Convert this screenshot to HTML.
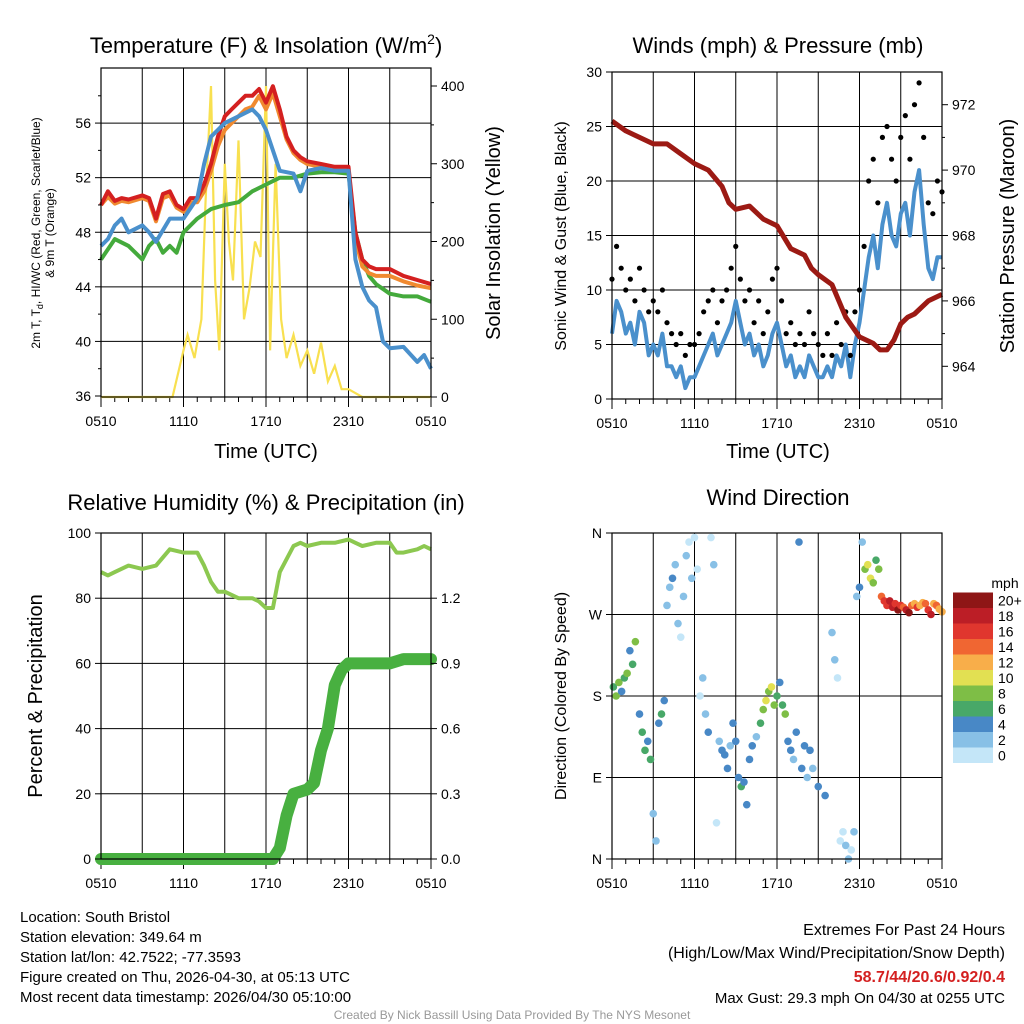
<!DOCTYPE html>
<html><head><meta charset="utf-8"><style>
html,body{margin:0;padding:0;background:#fff}
svg{display:block;font-family:"Liberation Sans",sans-serif}
</style></head><body>
<svg id="c" width="1024" height="1024" viewBox="0 0 1024 1024">
<g id="g"></g>
</svg>
<script>
// ---------- DATA ----------
const xTickLabels = ["0510","1110","1710","2310","0510"];
// Temperature panel (hours since 0510 UTC)
const tRedH = [0,0.5,1,1.5,2,3,3.5,4,4.5,5,5.5,6,6.5,7,7.5,8,8.5,9,9.5,10,10.5,11,11.5,12,12.5,13,13.5,14,14.5,15,16,17,18,18.5,19,19.5,20,21,22,23,24];
const tRed = [50,51,50.3,50.5,50.4,50.7,50.5,49,50.8,51,50,49.7,50.5,50.5,51.5,53,55,56.5,57,57.5,58,58,58.5,57.5,58.7,57,55,54,53.5,53.2,53,52.8,52.8,48,46,45.5,45.3,45.3,44.8,44.5,44.2];
const tOrange = [50,50.6,50.1,50.3,50.2,50.5,50.3,48.8,50.5,50.7,49.8,49.5,50.2,50.2,51,52.5,54.3,55.5,56,56.5,57,57.2,58,57,58.2,56.5,54.8,53.8,53.3,53,52.8,52.6,52.6,47.5,45.5,45,44.8,44.8,44.4,44.1,43.9];
const tGreenH = [0,1,2,3,3.5,4,4.5,5,5.5,6,7,8,9,10,11,12,13,14,15,16,17,18,18.5,19,19.5,20,21,22,23,24];
const tGreen = [46,47.5,47,46,47,47.5,46.5,47,46.5,48,49,49.7,50,50.2,51,51.5,52,52,52.3,52.4,52.4,52.3,48,46,44.8,44.2,43.5,43.3,43.3,42.9];
const tBlueH = [0,0.5,1,1.5,2,3,3.5,4,5,6,7,7.5,8,8.5,9,10,11,11.5,12,13,14,14.5,15,16,17,18,18.5,19,19.5,20,20.5,21,22,23,23.5,24];
const tBlue = [47,47.5,48.5,49,48,48.5,48,47.3,49,49,50.5,53,55,55.5,56,56.5,57,56.5,55.5,52.5,52.3,51,52.5,52.7,52.5,52.5,46,44,43,42.5,40,39.5,39.6,38.5,39,38];
const solarH = [0,5.2,5.6,6,6.3,6.8,7.3,7.6,8,8.3,8.6,9,9.3,9.6,10,10.4,10.8,11.2,11.6,12,12.3,12.7,13.1,13.5,14,14.5,15,15.5,16,16.5,17,17.5,18,19,24];
const solar = [0,0,30,60,80,50,100,250,400,150,60,300,200,150,330,100,140,200,180,400,60,300,100,50,80,40,60,30,70,20,40,10,10,0,0];
// Winds panel
const windSpd = [6,9,8,6,7,5,8,7,4, 5,4,6,3,3,2,3,1,2, 2,3,4,5,6,4,5,6,7, 9,7,5,6,4,5,3,4,6, 7,5,3,4,2,3,2,4,3, 2,2,3,2,4,3,5,2,5, 7,10,13,15,12,16,18,15,14,17,18,15,19,21,16,12,11,13,13];
const windGust = [11,14,12,10,11,9,12,10,8, 9,8,10,7,6,5,6,4,5, 5,6,8,9,10,7,9,10,12, 14,11,9,10,7,9,6,8,11, 12,9,6,7,5,6,5,8,6, 5,4,6,4,7,5,8,4,8, 10,14,20,22,18,24,25,22,20,24,26,22,27,29,24,18,17,20,19];
const presH = [0,1,2,3,4,5,6,7,8,8.5,9,10,11,12,13,14,14.5,15,16,17,18,18.5,19,19.5,20,20.5,21,21.5,22,23,24];
const pres = [971.5,971.2,971,970.8,970.8,970.5,970.2,970,969.5,969,968.8,968.9,968.5,968.3,967.6,967.4,967,966.8,966.5,965.5,964.9,964.8,964.7,964.5,964.5,964.8,965.3,965.5,965.6,966,966.2];
// RH / precip panel
const rhH = [0,0.5,1,2,3,4,5,6,7,7.5,8,8.5,9,10,11,11.5,12,12.5,13,14,14.5,15,16,17,18,18.5,19,20,21,21.5,22,23,23.5,24];
const rh = [88,87,88,90,89,90,95,94,94,90,85,82,82,80,80,79,77,77,88,96,97,96,97,97,98,97,96,97,97,94,94,95,96,95];
const prH = [0,12.5,13,13.5,14,15,15.5,16,16.5,17,17.5,18,21,22,24];
const pr = [0,0,0.05,0.2,0.3,0.32,0.35,0.5,0.6,0.8,0.87,0.9,0.9,0.92,0.92];
// Wind direction panel
const dirH = [0.1,0.3,0.5,0.7,0.9,1.1,1.3,1.5,1.7,2.0,2.2,2.4,2.6,2.8,3.0,3.2,3.4,3.6,3.8,4.0,4.2,4.4,4.6,4.8,5.0,5.2,5.4,5.6,5.8,6.0,6.2,6.4,6.6,6.8,7.0,7.2,7.4,7.6,7.8,8.0,8.2,8.4,8.6,8.8,9.0,9.2,9.4,9.6,9.8,10.0,10.2,10.5,10.8,11.0,11.2,11.4,11.6,11.8,12.0,12.2,12.4,12.6,12.8,13.0,13.2,13.4,13.6,13.8,14.0,14.2,14.4,14.6,15.0,15.5,16.0,16.2,16.4,16.6,16.8,17.0,17.2,17.4,17.6,17.8,18.0,18.2,18.4,18.6,18.8,19.0,19.2,19.4,19.6,19.8,20.0,20.2,20.4,20.6,20.8,21.0,21.2,21.4,21.6,21.8,22.0,22.2,22.4,22.6,22.8,23.0,23.2,23.4,23.6,23.8,24];
const dirDeg = [190,180,195,185,200,205,230,215,240,160,140,120,130,110,50,20,150,160,175,280,300,310,325,260,245,290,335,350,310,355,320,180,200,160,140,355,325,40,130,120,115,100,125,150,130,90,80,85,60,110,125,135,150,165,175,185,190,170,180,195,170,160,130,120,110,140,350,100,125,90,120,100,80,70,250,220,200,20,30,15,0,10,30,290,300,350,320,325,310,305,330,320,290,285,280,285,278,282,275,280,278,275,272,280,282,278,280,283,282,275,270,282,280,276,273];
const dirSpd = [6,8,8,4,6,8,4,6,8,4,6,6,4,6,2,2,4,6,4,2,2,4,2,2,0,2,2,0,2,0,0,0,2,2,4,0,2,0,2,4,4,4,2,4,4,4,6,4,4,4,4,2,6,8,10,8,10,8,6,4,6,8,4,4,2,4,4,4,4,2,4,2,4,4,2,2,0,0,0,2,2,0,2,2,4,2,8,10,10,8,6,8,14,16,16,18,18,16,20,16,14,18,20,14,12,16,12,12,14,16,18,12,14,12,12];
const cbLabels = ["0","2","4","6","8","10","12","14","16","18","20+"];
const cbColors = ["#c4e6f8","#88c0e6","#4888c6","#48a868","#7ebe46","#e2e052","#f8ae4a","#f06632","#e0362e","#bc1e26","#8e1616"];

// ---------- HELPERS ----------
const NS="http://www.w3.org/2000/svg";
const G=document.getElementById('g');
function el(tag,attrs,parent){const e=document.createElementNS(NS,tag);for(const k in attrs)e.setAttribute(k,attrs[k]);(parent||G).appendChild(e);return e;}
function txt(x,y,s,size,anchor,extra,parent){const t=el('text',Object.assign({x:x,y:y,'font-size':size,'text-anchor':anchor||'middle',fill:'#000'},extra||{}),parent);t.textContent=s;return t;}
function lin(d0,d1,r0,r1){return v=>r0+(v-d0)/(d1-d0)*(r1-r0);}
function pathOf(xs,ys,fx,fy){return xs.map((h,i)=>(i?'L':'M')+fx(h).toFixed(1)+','+fy(ys[i]).toFixed(1)).join('');}
function evenH(n){const a=[];for(let i=0;i<n;i++)a.push(i*24/(n-1));return a;}

function panel(name,x0,x1,y0,y1,hGrid,fy){
  const g=el('g',{});
  
  
  const fx=lin(0,24,x0,x1);
  for(let h=3;h<24;h+=3) el('line',{x1:fx(h),x2:fx(h),y1:y0,y2:y1,stroke:'#000','stroke-width':1},g);
  hGrid.forEach(v=>el('line',{x1:x0,x2:x1,y1:fy(v),y2:fy(v),stroke:'#000','stroke-width':1},g));
  const xa=el('g',{},g);
  
  
  for(let h=0;h<=24;h+=1){el('line',{x1:fx(h),x2:fx(h),y1:y1,y2:y1+(h%6==0?10:5),stroke:'#000'},xa);}
  xTickLabels.forEach((s,i)=>txt(fx(i*6),y1+29,s,14,'middle',{},xa));
  return {g,fx};
}
function frame(g,x0,x1,y0,y1){el('rect',{x:x0,y:y0,width:x1-x0,height:y1-y0,fill:'none',stroke:'#000','stroke-width':1.2},g);}
function yTicks(g,x,vals,fy,labels,side,minor){
  const d=side=='l'?-1:1;
  if(minor) minor.forEach(v=>el('line',{x1:x,x2:x+d*3,y1:fy(v),y2:fy(v),stroke:'#000'},g));
  vals.forEach((v,i)=>{el('line',{x1:x,x2:x+d*6,y1:fy(v),y2:fy(v),stroke:'#000'},g);
    txt(x+d*10,fy(v)+5,labels[i],14,side=='l'?'end':'start',{},g);});
}
function rotText(x,y,s,size,parent){return txt(x,y,s,size,'middle',{transform:`rotate(-90 ${x} ${y})`},parent);}

// ---------- PANEL 1: TEMPERATURE ----------
(function(){
  const x0=101,x1=431,y0=68,y1=397;
  const fy=lin(36,60,396,68.5), fs=lin(0,400,397,86);
  const {g,fx}=panel('temperature-panel',x0,x1,y0,y1,[40,44,48,52,56],fy);
  const t=txt(266,53,'Temperature (F) & Insolation (W/m',22,'middle',{},g);
  const sup=el('tspan',{dy:-9,'font-size':14},t);sup.textContent='2';
  const cl=el('tspan',{dy:9},t);cl.textContent=')';
  
  const sol=el('path',{d:pathOf(solarH,solar,fx,fs),fill:'none',stroke:'#f8e050','stroke-width':2.2},g);
  
  const series=[[tGreenH,tGreen,'#44aa3c','dewpoint-line'],[tRedH,tOrange,'#f08a30','temp-9m-line'],[tRedH,tRed,'#d42020','temp-2m-line'],[tBlueH,tBlue,'#4a90cc','heat-index-windchill-line']];
  series.forEach(s=>{const p=el('path',{d:pathOf(s[0],s[1],fx,fy),fill:'none',stroke:s[2],'stroke-width':4,'stroke-linejoin':'round'},g);
    });
  frame(g,x0,x1,y0,y1);
  yTicks(g,x0,[36,40,44,48,52,56],fy,['36','40','44','48','52','56'],'l',[38,42,46,50,54,58]);
  yTicks(g,x1,[0,100,200,300,400],fs,['0','100','200','300','400'],'r',[50,150,250,350]);
  const yl=el('g',{},g);
  const a=rotText(40,233,'',12,yl);a.innerHTML='2m T, T<tspan dy="3" font-size="9">d</tspan><tspan dy="-3">, HI/WC (Red, Green, Scarlet/Blue)</tspan>';
  rotText(54,233,'& 9m T (Orange)',12,yl);
  const r=rotText(500,233,'Solar Insolation (Yellow)',20,g);
  const xt=txt(266,458,'Time (UTC)',20,'middle',{},g);
})();

// ---------- PANEL 2: WINDS ----------
(function(){
  const x0=612,x1=942,y0=72,y1=399;
  const fy=lin(0,30,399,72), fp=lin(963,973,399,72);
  const {g,fx}=panel('winds-panel',x0,x1,y0,y1,[5,10,15,20,25],fy);
  const t=txt(778,53,'Winds (mph) & Pressure (mb)',22,'middle',{},g);
  const wh=evenH(windSpd.length);
  const w=el('path',{d:pathOf(wh,windSpd,fx,fy),fill:'none',stroke:'#4a90cc','stroke-width':4,'stroke-linejoin':'round'},g);
  
  const gh=evenH(windGust.length);
  windGust.forEach((v,i)=>{const c=el('circle',{cx:fx(gh[i]),cy:fy(v),r:2.6,fill:'#000'},g);
    });
  const p=el('path',{d:pathOf(presH,pres,fx,fp),fill:'none',stroke:'#9c1a14','stroke-width':5,'stroke-linejoin':'round'},g);
  
  frame(g,x0,x1,y0,y1);
  yTicks(g,x0,[0,5,10,15,20,25,30],fy,['0','5','10','15','20','25','30'],'l');
  yTicks(g,x1,[964,966,968,970,972],fp,['964','966','968','970','972'],'r',[965,967,969,971]);
  const a=rotText(566,236,'Sonic Wind & Gust (Blue, Black)',16,g);
  const b=rotText(1014,236,'Station Pressure (Maroon)',20,g);
  const xt=txt(778,458,'Time (UTC)',20,'middle',{},g);
})();

// ---------- PANEL 3: RH & PRECIP ----------
(function(){
  const x0=101,x1=431,y0=533,y1=859;
  const fy=lin(0,100,859,533), fp=lin(0,1.5,859,533);
  const {g,fx}=panel('humidity-precip-panel',x0,x1,y0,y1,[20,40,60,80],fy);
  const t=txt(266,510,'Relative Humidity (%) & Precipitation (in)',22,'middle',{},g);
  const r=el('path',{d:pathOf(rhH,rh,fx,fy),fill:'none',stroke:'#8cc850','stroke-width':4,'stroke-linejoin':'round'},g);
  
  const p=el('path',{d:pathOf(prH,pr,fx,fp),fill:'none',stroke:'#48b040','stroke-width':12,'stroke-linejoin':'round','stroke-linecap':'round'},g);
  
  frame(g,x0,x1,y0,y1);
  yTicks(g,x0,[0,20,40,60,80,100],fy,['0','20','40','60','80','100'],'l');
  yTicks(g,x1,[0,0.3,0.6,0.9,1.2],fp,['0.0','0.3','0.6','0.9','1.2'],'r');
  const a=rotText(42,696,'Percent & Precipitation',20,g);
})();

// ---------- PANEL 4: WIND DIRECTION ----------
(function(){
  const x0=612,x1=942,y0=533,y1=859;
  const fy=lin(0,360,859,533);
  const {g,fx}=panel('wind-direction-panel',x0,x1,y0,y1,[90,180,270],fy);
  const t=txt(778,505,'Wind Direction',22,'middle',{},g);
  function col(s){let i=Math.round(s/2);if(i>10)i=10;if(i<0)i=0;return cbColors[i];}
  dirDeg.forEach((d,i)=>{const c=el('circle',{cx:fx(dirH[i]),cy:fy(d),r:3.8,fill:col(dirSpd[i])},g);
    });
  frame(g,x0,x1,y0,y1);
  yTicks(g,x0,[0,90,180,270,360],fy,['N','E','S','W','N'],'l');
  const a=rotText(566,696,'Direction (Colored By Speed)',16,g);
  const cb=el('g',{},g);
  const bh=15.5;
  cbColors.forEach((c,i)=>{el('rect',{x:953,y:763-(i+1)*bh,width:40,height:bh,fill:c},cb);
    txt(998,763-(i+0.5)*bh-4+9,cbLabels[i],14,'start',{},cb);});
  txt(1005,588,'mph',14,'middle',{},cb);
})();

// ---------- FOOTER ----------
(function(){
  const g=el('g',{});
  ['Location: South Bristol','Station elevation: 349.64 m','Station lat/lon: 42.7522; -77.3593','Figure created on Thu, 2026-04-30, at 05:13 UTC','Most recent data timestamp: 2026/04/30 05:10:00']
    .forEach((s,i)=>txt(20,922+i*20,s,15,'start',{},g));
  const e=el('g',{});
  txt(1005,935,'Extremes For Past 24 Hours',16,'end',{},e);
  txt(1005,958,'(High/Low/Max Wind/Precipitation/Snow Depth)',16,'end',{},e);
  txt(1005,982,'58.7/44/20.6/0.92/0.4',16,'end',{fill:'#d42020','font-weight':'bold'},e);
  txt(1005,1003,'Max Gust: 29.3 mph On 04/30 at 0255 UTC',15,'end',{},e);
  const c=txt(512,1019,'Created By Nick Bassill Using Data Provided By The NYS Mesonet',12,'middle',{fill:'#999'});
  
})();
</script>
</body></html>
